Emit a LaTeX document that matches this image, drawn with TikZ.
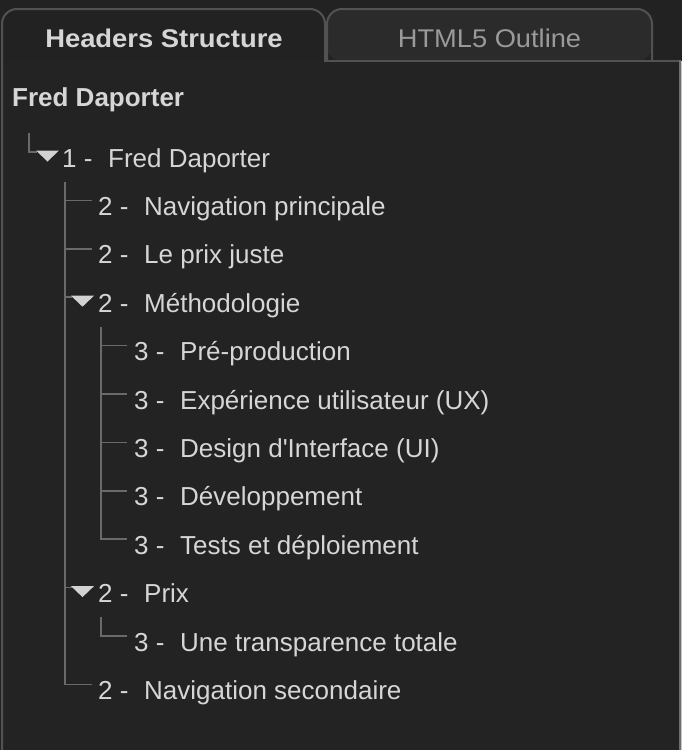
\documentclass[tikz,border=0pt]{standalone}
\usepackage{fontspec}
\setmainfont{Liberation Sans}[Ligatures=TeXOff]
\definecolor{bg}{HTML}{222222}
\definecolor{panel}{HTML}{232323}
\definecolor{tabfill}{HTML}{2B2B2B}
\definecolor{tabline}{HTML}{525252}
\definecolor{edgeline}{HTML}{6E6E6E}
\definecolor{treeline}{HTML}{6A6A6A}
\definecolor{txt}{HTML}{D6D6D6}
\definecolor{dimtxt}{HTML}{9A9A9A}
\definecolor{trifill}{HTML}{D2D2D2}
\tikzset{
  lbl/.style={anchor=base west, inner sep=0pt, text=txt, font=\fontsize{26}{30}\selectfont},
  headlbl/.style={anchor=base west, inner sep=0pt, text=txt, font=\fontsize{26}{30}\selectfont\bfseries},
  tablbl/.style={anchor=base, inner sep=0pt, font=\fontsize{25.6}{30}\selectfont},
  treeln/.style={draw=treeline, line width=1.6pt},
  tabln/.style={draw=tabline, line width=2pt},
  expander/.style={fill=trifill},
}
\newcommand{\expandtri}[2]{\fill[expander] (#1,#2-1.5) -- (#1+23,#2-1.5) -- (#1+11.5,#2+9.5) -- cycle;}
\begin{document}
\begin{tikzpicture}[x=1pt,y=-1pt]
\useasboundingbox (0,0) rectangle (682,750);
\fill[bg] (0,0) rectangle (682,750);
\fill[panel] (2,61) rectangle (680,750);
% tabs
\fill[tabfill, rounded corners=15pt] (327,61) -- (327,9) -- (652,9) -- (652,61) -- cycle;
\draw[tabln, rounded corners=15pt] (327,61) -- (327,9) -- (652,9) -- (652,61);
\draw[tabln, rounded corners=15pt] (2,750) -- (2,9) -- (325,9) -- (325,61);
\draw[tabln] (324,61) -- (680,61);
\draw[draw=edgeline, line width=2pt] (680,60) -- (680,750);
\fill[black!22] (681,61) rectangle (682,750);
\node[tablbl, text=txt] (tab1) at (164,47.3) {\scalebox{1.07}[1]{\bfseries Headers Structure}};
\node[tablbl, text=dimtxt] (tab2) at (489.5,47.3) {\scalebox{1.065}[1]{HTML5 Outline}};
% title
\node[headlbl] (head) at (12,106) {Fred Daporter};
% rows: number and title
\node[lbl] (n0) at (62,167) {1 -};   \node[lbl] (t0) at (108,167) {Fred Daporter};
\node[lbl] (n1) at (98,215.4) {2 -}; \node[lbl] (t1) at (144,215.4) {Navigation principale};
\node[lbl] (n2) at (98,263.8) {2 -}; \node[lbl] (t2) at (144,263.8) {Le prix juste};
\node[lbl] (n3) at (98,312.2) {2 -}; \node[lbl] (t3) at (144,312.2) {Méthodologie};
\node[lbl] (n4) at (134,360.6) {3 -}; \node[lbl] (t4) at (180,360.6) {Pré-production};
\node[lbl] (n5) at (134,409) {3 -};   \node[lbl] (t5) at (180,409) {Expérience utilisateur (UX)};
\node[lbl] (n6) at (134,457.4) {3 -}; \node[lbl] (t6) at (180,457.4) {Design d'Interface (UI)};
\node[lbl] (n7) at (134,505.8) {3 -}; \node[lbl] (t7) at (180,505.8) {Développement};
\node[lbl] (n8) at (134,554.2) {3 -}; \node[lbl] (t8) at (180,554.2) {Tests et déploiement};
\node[lbl] (n9) at (98,602.6) {2 -};  \node[lbl] (t9) at (144,602.6) {Prix};
\node[lbl] (n10) at (134,651) {3 -};  \node[lbl] (t10) at (180,651) {Une transparence totale};
\node[lbl] (n11) at (98,699.4) {2 -}; \node[lbl] (t11) at (144,699.4) {Navigation secondaire};
% branch coordinates
\coordinate (r0) at (29,133);
\coordinate (b0) at (37,152);
\coordinate (r1) at (65,182);
\coordinate (b1) at (92,200.4);
\coordinate (b2) at (92,248.8);
\coordinate (b3) at (72,297.2);
\coordinate (b9) at (72,587.6);
\coordinate (b11) at (92,684.4);
\coordinate (r3) at (101,327);
\coordinate (b4) at (127,345.6);
\coordinate (b5) at (127,394);
\coordinate (b6) at (127,442.4);
\coordinate (b7) at (127,490.8);
\coordinate (b8) at (127,539.2);
\coordinate (r9) at (101,617);
\coordinate (b10) at (127,636);
% tree lines
\draw[treeln] (r0) |- (b0);
\draw[treeln] (r1) |- (b11);
\draw[treeln] (r1 |- b1) -- (b1);
\draw[treeln] (r1 |- b2) -- (b2);
\draw[treeln] (r1 |- b3) -- (b3);
\draw[treeln] (r1 |- b9) -- (b9);
\draw[treeln] (r3) |- (b8);
\draw[treeln] (r3 |- b4) -- (b4);
\draw[treeln] (r3 |- b5) -- (b5);
\draw[treeln] (r3 |- b6) -- (b6);
\draw[treeln] (r3 |- b7) -- (b7);
\draw[treeln] (r9) |- (b10);
% expanders
\expandtri{36}{152}
\expandtri{71}{297.2}
\expandtri{71}{587.6}
\end{tikzpicture}
\end{document}
